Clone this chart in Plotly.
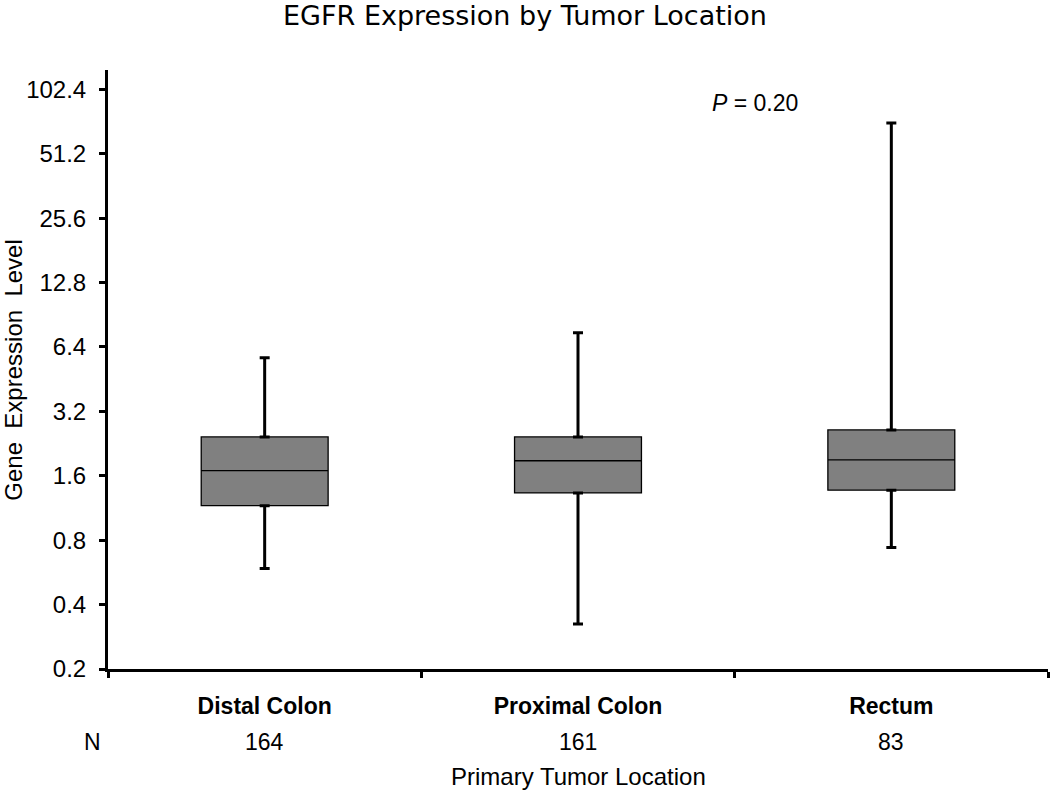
import math
import plotly.graph_objects as go

# ---- data ----
categories = ["Distal Colon", "Proximal Colon", "Rectum"]
n_counts = ["164", "161", "83"]
lower_whisker = [0.59, 0.325, 0.74]
q1_values = [1.16, 1.33, 1.37]
median_values = [1.69, 1.88, 1.90]
q3_values = [2.43, 2.43, 2.62]
upper_whisker = [5.69, 7.45, 71.3]
y_ticks = [0.2, 0.4, 0.8, 1.6, 3.2, 6.4, 12.8, 25.6, 51.2, 102.4]
y_tick_labels = ["0.2", "0.4", "0.8", "1.6", "3.2", "6.4", "12.8", "25.6", "51.2", "102.4"]
p_text = "<i>P</i> = 0.20"

FONT = "Liberation Sans, Arial, sans-serif"

fig = go.Figure()

# box bodies (whiskers drawn separately, thicker)
fig.add_trace(go.Box(
    x=categories,
    q1=q1_values,
    median=median_values,
    q3=q3_values,
    lowerfence=q1_values,
    upperfence=q3_values,
    fillcolor="#808080",
    line=dict(color="#000000", width=1.3),
    width=0.405,
    whiskerwidth=0,
    showlegend=False,
    hoverinfo="skip",
))

# upper whiskers
fig.add_trace(go.Scatter(
    x=categories,
    y=q3_values,
    mode="markers",
    marker=dict(color="rgba(0,0,0,0)", size=1),
    error_y=dict(type="data", symmetric=False,
                 array=[u - q for u, q in zip(upper_whisker, q3_values)],
                 arrayminus=[0, 0, 0],
                 color="#000000", thickness=3, width=5),
    showlegend=False, hoverinfo="skip",
))
# lower whiskers
fig.add_trace(go.Scatter(
    x=categories,
    y=q1_values,
    mode="markers",
    marker=dict(color="rgba(0,0,0,0)", size=1),
    error_y=dict(type="data", symmetric=False,
                 array=[0, 0, 0],
                 arrayminus=[q - l for q, l in zip(q1_values, lower_whisker)],
                 color="#000000", thickness=3, width=5),
    showlegend=False, hoverinfo="skip",
))

annotations = []
# N row
annotations.append(dict(text="N", xref="paper", yref="paper", x=-0.016, y=-0.122,
                        xanchor="center", yanchor="middle", showarrow=False,
                        font=dict(family=FONT, size=23, color="#000000")))
for cat, n in zip(categories, n_counts):
    annotations.append(dict(text=n, xref="x", yref="paper", x=cat, y=-0.122,
                            xanchor="center", yanchor="middle", showarrow=False,
                            font=dict(family=FONT, size=23, color="#000000")))
# x-axis title
annotations.append(dict(text="Primary Tumor Location", xref="paper", yref="paper",
                        x=0.5, y=-0.179, xanchor="center", yanchor="middle",
                        showarrow=False, font=dict(family=FONT, size=24, color="#000000")))
# y-axis title
annotations.append(dict(text="Gene  Expression  Level", xref="paper", yref="paper",
                        x=-0.1, y=0.498, xanchor="center", yanchor="middle",
                        textangle=-90, showarrow=False,
                        font=dict(family=FONT, size=24, color="#000000")))
# P value
annotations.append(dict(text=p_text, xref="paper", yref="paper", x=0.688, y=0.945,
                        xanchor="center", yanchor="middle", showarrow=False,
                        font=dict(family=FONT, size=23, color="#000000")))

fig.update_layout(
    width=1050, height=794,
    margin=dict(l=108, r=2, t=70, b=125),
    paper_bgcolor="#ffffff", plot_bgcolor="#ffffff",
    title=dict(text="EGFR Expression by Tumor Location", xref="container", x=0.5,
               y=1 - 16 / 794, xanchor="center", yanchor="middle",
               font=dict(family="DejaVu Sans, sans-serif", size=27, color="#000000")),
    annotations=annotations,
    showlegend=False,
)

fig.update_xaxes(
    type="category", range=[-0.5, 2.5],
    showline=True, linecolor="#000000", linewidth=3,
    showgrid=False, zeroline=False,
    ticks="outside", tickson="boundaries", ticklen=6, tickwidth=3, tickcolor="#000000",
    tickfont=dict(family=FONT, size=23, color="#000000", weight="bold"),
    ticklabelstandoff=14,
)
fig.update_yaxes(
    type="log", range=[math.log10(0.2), math.log10(126)],
    tickmode="array", tickvals=y_ticks, ticktext=y_tick_labels,
    showline=True, linecolor="#000000", linewidth=3,
    showgrid=False, zeroline=False,
    ticks="outside", ticklen=6, tickwidth=3, tickcolor="#000000",
    tickfont=dict(family=FONT, size=24, color="#000000"),
    ticklabelstandoff=8,
)

fig.write_html("out.html", config={"displayModeBar": False},
               post_script="document.body.style.margin='0';document.body.style.padding='0';")
